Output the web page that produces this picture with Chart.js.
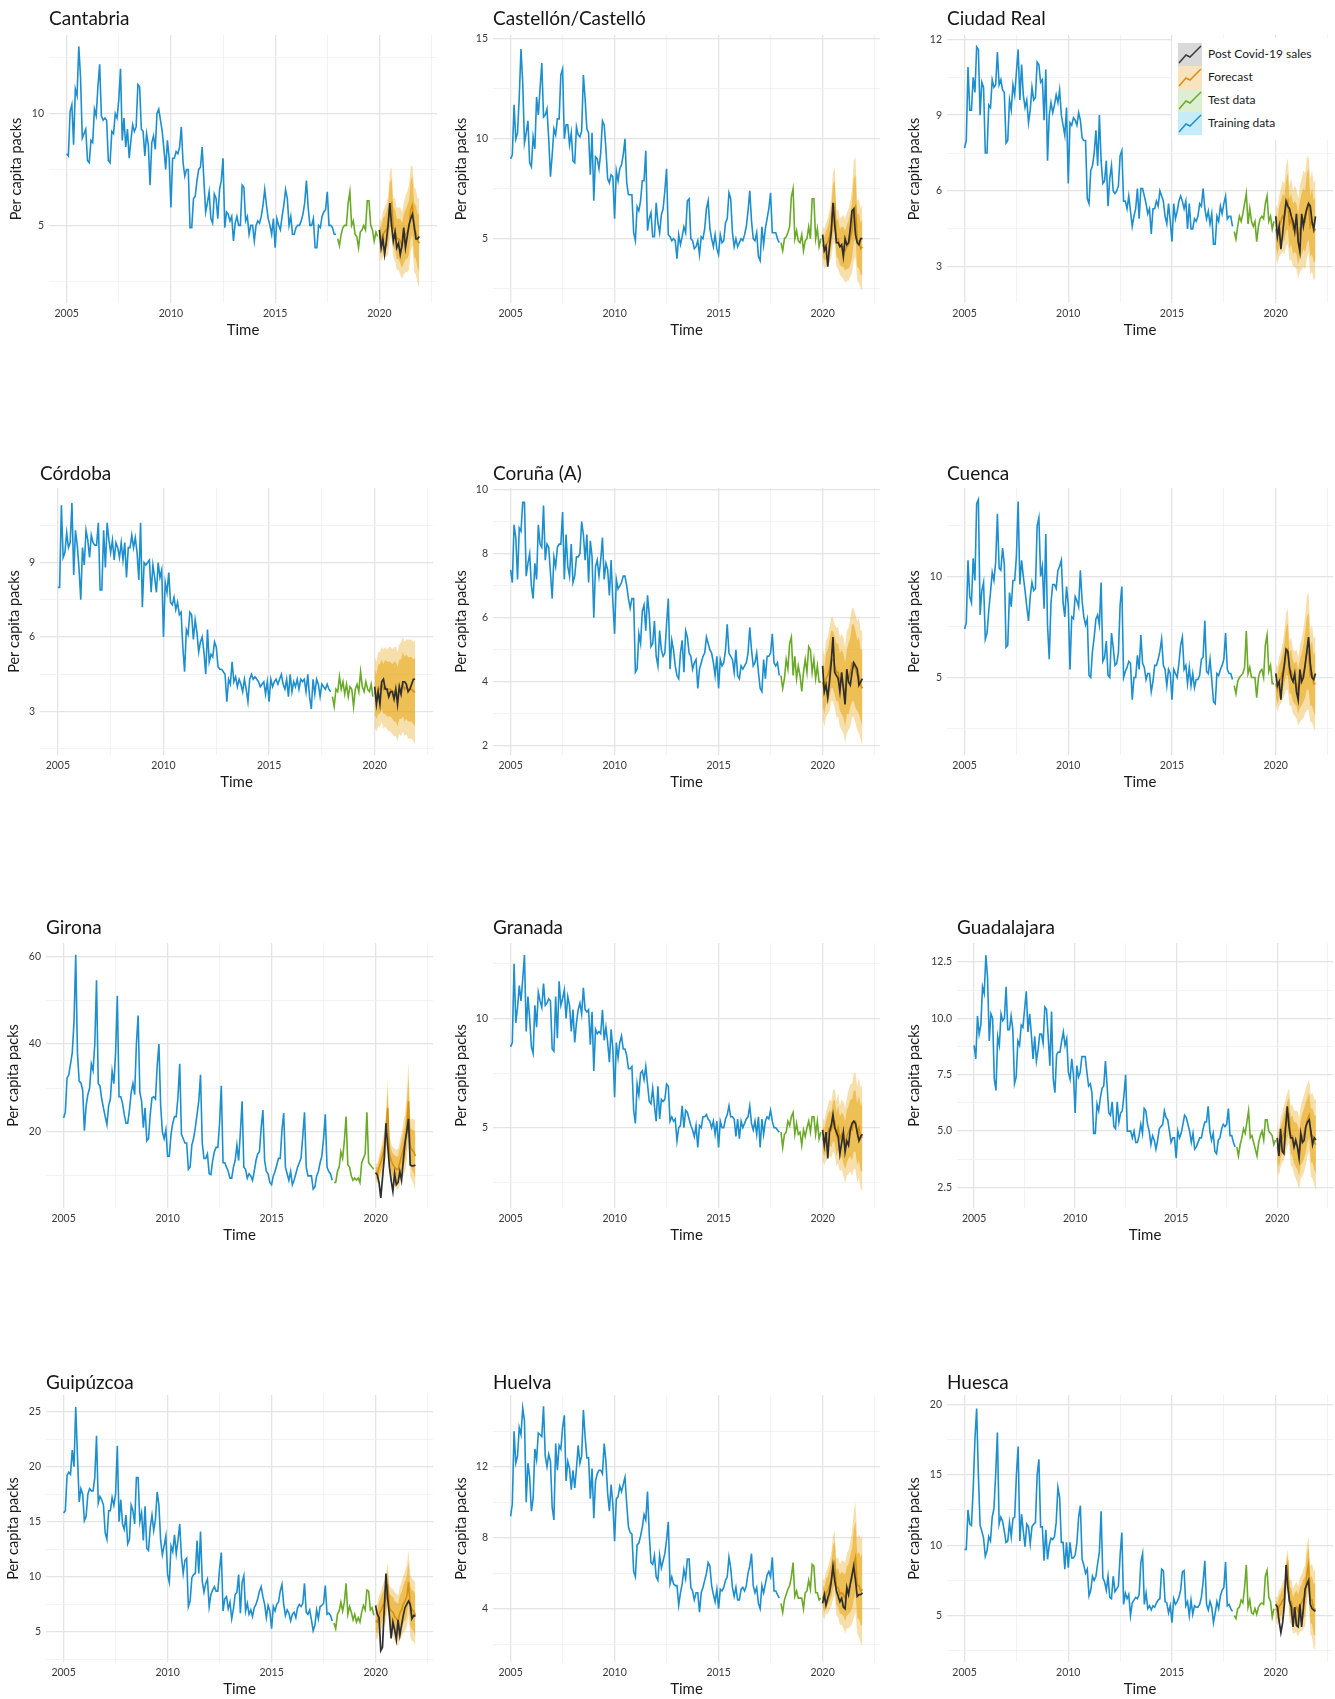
<!DOCTYPE html>
<html><head><meta charset="utf-8">
<script src="https://cdn.jsdelivr.net/npm/chart.js@4.4.1/dist/chart.umd.min.js"></script>
<style>
html,body{margin:0;padding:0;background:#fff;width:1335px;height:1699px;overflow:hidden;font-family:Lato,sans-serif}
.panel{position:absolute}
#legend{position:absolute;left:1172px;top:38px;width:163px;height:102px;background:#fff}
.li{position:absolute;left:6px;height:23px;width:155px}
.li svg{position:absolute;left:0;top:0}
.li span{position:absolute;left:30px;top:4px;font-size:12px;line-height:14px;color:#1a1a1a;white-space:nowrap}
</style></head><body>
<div id="legend">
 <div class="li" style="top:5px"><svg width="24" height="23"><rect width="24" height="23" fill="#d9d9d9"/><polyline points="1,20 8,12 12,14 16,10 23,3" fill="none" stroke="#3a3a3a" stroke-width="1.5"/></svg><span>Post Covid-19 sales</span></div>
 <div class="li" style="top:28px"><svg width="24" height="23"><rect width="24" height="23" fill="#f8e3bd"/><polyline points="1,20 8,12 12,14 16,10 23,3" fill="none" stroke="#d4900f" stroke-width="1.5"/></svg><span>Forecast</span></div>
 <div class="li" style="top:51px"><svg width="24" height="23"><rect width="24" height="23" fill="#deeed0"/><polyline points="1,20 8,12 12,14 16,10 23,3" fill="none" stroke="#6aaa28" stroke-width="1.5"/></svg><span>Test data</span></div>
 <div class="li" style="top:74px"><svg width="24" height="23"><rect width="24" height="23" fill="#c6ecf8"/><polyline points="1,20 8,12 12,14 16,10 23,3" fill="none" stroke="#1d8fce" stroke-width="1.5"/></svg><span>Training data</span></div>
</div>
<script>
// ---------- shared axis values ----------
const xMajors = [2005, 2010, 2015, 2020];
const xMinors = [2007.5, 2012.5, 2017.5, 2022.5];
const trainStart = 2005, testStart = 2018, fcStart = 2020;

// ---------- Cantabria ----------
const cantabriaTrain = [
 8.2,8.1,10.1,10.4,8.6,11.1,10.8,13.0,11.6,8.9,9.1,9.3,
 7.9,7.8,8.8,8.7,10.2,9.9,11.2,12.2,9.9,9.7,9.8,9.7,
 7.9,7.8,9.2,9.1,10.0,9.8,10.6,12.0,8.8,9.8,8.5,9.3,
 8.0,8.8,9.5,9.2,9.4,11.3,11.2,9.3,9.2,8.1,9.1,8.6,
 6.8,8.7,9.0,8.4,10.0,10.2,9.7,9.2,8.4,7.5,8.8,8.0,
 5.8,8.0,8.0,8.3,8.2,8.5,9.4,7.8,7.2,7.5,7.5,4.9,
 4.9,6.2,6.3,7.0,7.5,7.6,8.5,7.0,5.6,6.0,6.5,5.3,
 5.1,6.4,6.2,5.3,6.6,7.0,8.0,4.9,5.6,5.5,5.2,5.4,
 4.3,5.1,5.4,5.0,5.0,6.8,6.7,5.2,5.4,4.6,5.0,5.0,
 4.3,5.0,5.2,5.1,5.4,5.9,6.6,5.9,5.3,5.0,4.6,5.3,
 4.0,5.3,5.0,4.8,5.4,5.9,6.6,6.2,5.0,5.4,4.6,4.6,
 4.9,5.0,5.0,5.2,5.5,6.0,7.0,5.8,5.0,5.0,5.3,4.0,
 4.0,5.0,4.9,5.4,5.6,5.7,6.5,5.0,5.0,4.9,4.6,4.6];
const cantabriaTest = [4.4,4.1,4.6,4.9,5.0,5.0,6.0,6.5,5.0,5.2,4.6,4.5, 4.0,4.7,4.8,5.0,4.8,6.1,6.1,5.0,4.8,4.3,4.7,4.5];
const cantabriaFc = [4.5,4.3,4.6,4.7,4.8,5.0,5.9,6.0,4.9,4.8,4.4,4.4, 4.3,4.1,4.4,4.6,4.7,4.9,5.7,5.9,4.8,4.7,4.3,4.2];
const cantabriaW80 = [0.5,0.6,0.7,0.7,0.8,0.9,1.0,1.1,0.9,0.9,0.9,0.9, 1.0,1.0,1.1,1.1,1.2,1.2,1.3,1.3,1.2,1.2,1.2,1.3];
const cantabriaW95 = [0.8,0.9,1.0,1.1,1.2,1.3,1.5,1.6,1.3,1.4,1.4,1.4, 1.5,1.5,1.6,1.7,1.8,1.9,1.9,1.8,1.9,1.9,1.9,2.0];
const cantabriaPost = [4.8,4.0,4.4,3.7,4.3,5.0,6.0,5.0,4.3,4.7,4.0,4.2, 3.7,4.1,4.9,4.0,4.5,5.0,5.3,5.5,5.0,4.4,4.4,4.5];

// ---------- Castellón/Castelló ----------
const castellonTrain = [
 9.0,9.2,11.7,10.0,10.3,12.1,14.5,12.8,9.8,10.3,10.9,8.8,
 8.6,10.1,9.5,12.1,11.2,12.5,13.8,11.1,11.2,11.5,10.0,8.1,
 9.2,10.5,10.2,11.0,11.0,13.2,13.5,10.0,10.7,10.7,9.7,10.3,
 8.9,8.8,10.6,10.2,10.1,10.4,13.2,12.0,10.5,10.3,8.2,10.3,
 6.9,9.1,9.0,8.5,9.3,10.9,10.7,9.5,8.0,7.8,8.2,8.1,
 6.0,8.4,7.9,8.5,8.7,9.2,10.0,7.8,7.2,7.2,7.2,5.3,
 4.9,6.6,6.4,6.9,7.9,7.9,9.4,5.4,6.0,6.3,5.1,5.1,
 6.8,5.8,5.3,6.2,6.5,7.4,8.5,5.2,5.1,4.9,5.0,4.9,
 4.0,5.2,4.7,5.1,5.6,5.3,6.9,7.0,5.0,4.9,4.5,4.6,
 4.9,4.2,5.1,5.0,5.5,6.5,6.9,5.5,5.0,4.6,5.2,4.5,
 4.2,5.2,4.8,4.9,5.8,6.0,7.3,7.0,5.3,4.6,5.0,4.6,
 4.8,5.0,4.9,5.2,5.6,6.4,7.4,5.9,5.0,4.9,5.3,4.1,
 3.9,5.6,4.7,5.5,6.0,6.5,7.3,5.3,5.3,5.3,5.0,4.8];
const castellonTest = [4.8,4.4,5.0,5.1,5.3,5.6,7.1,7.5,5.0,5.4,4.9,4.8, 5.2,4.4,4.9,5.0,5.6,5.0,7.0,7.0,5.0,5.5,4.6,5.0];
const castellonFc = [4.7,4.5,4.7,4.8,5.1,5.5,6.5,6.7,5.0,5.0,4.6,4.6, 4.6,4.4,4.6,4.7,5.0,5.4,6.4,6.6,4.9,4.9,4.5,4.6];
const castellonW80 = [0.6,0.6,0.7,0.8,0.9,1.0,1.2,1.2,0.9,1.0,0.9,1.0, 1.0,1.0,1.1,1.2,1.3,1.4,1.6,1.6,1.3,1.4,1.3,1.4];
const castellonW95 = [0.9,1.0,1.1,1.2,1.3,1.5,1.8,1.9,1.4,1.5,1.4,1.5, 1.6,1.6,1.7,1.8,1.9,2.1,2.5,2.5,2.0,2.1,2.0,2.2];
const castellonPost = [5.2,4.4,4.6,3.6,4.6,5.3,6.8,5.7,4.8,4.8,4.6,4.7, 4.1,5.0,4.7,4.8,5.5,6.4,6.5,5.2,4.8,4.7,5.0,5.0];

// ---------- Ciudad Real ----------
const ciudadRealTrain = [
 7.7,8.0,10.9,9.2,9.2,10.5,9.9,11.7,11.6,9.0,10.3,10.1,
 7.5,7.5,9.4,9.3,10.4,10.1,10.2,11.5,10.2,10.4,10.0,9.9,
 7.9,8.0,9.6,9.2,10.2,9.8,10.7,11.6,9.6,11.0,9.8,9.3,
 9.6,8.7,9.2,10.1,9.6,9.7,11.1,11.0,10.3,10.4,8.8,10.8,
 7.2,9.0,9.5,9.1,9.4,9.8,9.5,10.0,9.0,8.6,8.2,9.3,
 6.3,8.7,8.6,8.9,8.8,8.6,9.1,8.8,8.1,8.0,8.0,5.7,
 5.5,6.8,7.0,7.5,8.4,7.0,9.0,7.2,6.3,6.4,7.2,5.4,
 6.5,7.0,6.0,5.9,6.0,6.2,7.4,7.6,5.6,5.6,5.3,5.8,
 5.2,4.6,5.0,5.3,6.1,4.9,6.1,6.1,5.8,5.5,5.1,5.3,
 4.3,5.3,5.3,5.6,5.4,6.0,5.8,5.6,5.0,4.7,5.5,4.8,
 4.0,5.5,4.9,5.2,5.6,5.8,5.6,5.3,5.6,4.5,5.5,4.5,
 4.5,4.9,4.8,5.0,5.5,5.4,6.1,5.3,4.9,5.2,4.7,5.1,
 3.9,3.9,5.0,4.8,5.4,5.1,5.5,5.8,4.9,5.0,5.0,4.6];
const ciudadRealTest = [4.4,4.1,4.6,5.0,4.8,5.1,5.5,5.9,4.7,5.3,4.8,4.6, 4.8,4.0,4.6,4.9,5.0,4.9,5.5,5.8,4.8,5.0,4.5,4.8];
const ciudadRealFc = [4.5,4.2,4.6,4.8,5.0,4.9,5.4,5.6,4.7,4.9,4.5,4.6, 4.5,4.1,4.5,4.7,4.9,4.8,5.3,5.5,4.6,4.8,4.4,4.5];
const ciudadRealW80 = [0.7,0.7,0.8,0.8,0.9,0.9,1.0,1.1,1.0,1.0,1.0,1.0, 1.0,1.0,1.1,1.2,1.2,1.2,1.4,1.4,1.2,1.3,1.2,1.3];
const ciudadRealW95 = [1.0,1.1,1.2,1.3,1.4,1.4,1.6,1.7,1.5,1.6,1.5,1.6, 1.6,1.6,1.7,1.8,1.9,1.9,2.0,1.9,1.9,2.0,1.9,2.0];
const ciudadRealPost = [5.0,4.2,4.6,3.7,4.3,5.0,5.6,5.4,5.3,5.0,4.8,4.4, 5.1,4.0,3.6,5.1,4.6,5.0,5.3,5.5,5.4,4.8,4.5,5.0];

// ---------- Córdoba ----------
const cordobaTrain = [
 8.0,8.0,11.3,9.2,9.4,10.2,9.6,9.8,11.4,8.5,10.3,9.7,
 8.8,7.5,9.6,8.9,10.3,9.9,9.2,10.1,9.8,9.7,9.7,10.6,
 7.9,7.9,10.3,8.8,10.6,9.9,9.4,9.9,9.1,9.8,9.6,9.2,
 9.8,9.1,9.8,8.4,9.6,9.6,10.1,9.6,10.0,9.4,8.3,10.6,
 7.2,9.0,8.9,9.0,9.1,7.8,8.9,8.4,7.8,9.0,8.4,8.7,
 6.0,8.2,7.8,8.6,7.4,7.3,7.6,7.1,7.4,6.9,7.0,5.6,
 4.6,6.3,6.1,7.0,6.9,5.9,6.7,6.2,5.4,5.8,6.0,5.4,
 4.5,6.3,5.0,5.3,5.2,5.8,5.6,4.8,4.7,4.7,4.6,4.5,
 3.4,4.3,4.1,5.0,4.2,4.4,4.0,4.3,4.1,3.8,4.3,3.9,
 3.4,4.3,4.5,4.3,4.4,4.3,4.2,4.0,4.1,4.2,3.7,4.2,
 3.4,4.3,4.0,4.2,4.3,4.1,4.3,4.5,4.1,3.9,4.3,3.6,
 4.5,3.8,4.2,4.0,4.3,3.9,4.3,4.2,4.3,3.8,4.5,3.6,
 3.1,4.3,3.7,4.3,4.1,3.6,4.1,4.0,3.9,4.1,3.9,3.8];
const cordobaTest = [3.6,3.2,3.9,3.8,4.4,3.9,4.2,3.7,4.1,3.6,4.0,3.9, 3.2,3.9,4.1,3.8,4.6,4.0,3.8,4.2,3.9,3.8,4.1,3.6];
const cordobaFc = [3.8,3.6,3.9,3.9,4.1,3.9,4.0,3.9,3.9,3.9,3.8,3.8, 3.8,3.6,3.9,3.9,4.1,3.9,4.0,3.9,3.9,3.9,3.8,3.8];
const cordobaW80 = [0.9,0.9,1.0,1.0,1.0,1.0,1.1,1.1,1.1,1.1,1.1,1.2, 1.2,1.2,1.2,1.2,1.3,1.3,1.3,1.3,1.3,1.3,1.3,1.4];
const cordobaW95 = [1.4,1.4,1.5,1.5,1.5,1.6,1.6,1.6,1.7,1.7,1.7,1.8, 1.8,1.8,1.8,1.9,1.9,1.9,1.9,2.0,2.0,2.0,2.0,2.1];
const cordobaPost = [4.0,3.3,3.8,3.3,4.2,4.3,3.9,3.9,3.6,3.8,3.8,3.5, 3.9,3.3,4.0,3.7,4.2,4.2,4.1,3.8,3.9,4.1,4.3,4.3];

// ---------- Coruña (A) ----------
const corunaTrain = [
 7.5,7.1,8.9,8.5,7.2,8.8,8.7,9.6,9.6,7.3,7.7,8.0,
 7.0,6.6,7.7,7.2,8.9,8.3,8.2,9.5,7.8,8.3,8.2,7.4,
 6.6,7.9,7.6,8.2,8.3,8.3,9.3,7.2,8.6,7.6,7.3,8.3,
 7.1,7.3,7.9,7.9,8.0,9.0,8.6,7.8,8.6,7.1,8.4,7.9,
 6.0,7.6,7.8,7.3,7.8,8.5,7.2,7.7,7.5,6.7,7.8,6.5,
 5.5,7.2,6.9,7.0,7.1,7.3,7.3,7.0,6.6,6.3,6.6,6.6,
 4.3,4.4,5.5,5.2,6.2,6.4,5.6,6.7,6.1,5.1,5.2,5.9,
 4.8,4.5,5.6,5.0,4.8,4.9,5.8,6.6,4.4,5.3,5.0,4.5,
 4.2,4.1,4.9,5.3,4.3,5.6,5.4,4.9,4.8,4.4,4.6,4.7,
 3.8,4.4,4.6,4.8,4.9,5.4,5.2,5.0,4.9,4.6,4.2,4.8,
 3.8,4.7,4.5,4.6,5.0,5.8,4.9,4.8,4.7,4.3,5.0,4.2,
 4.1,4.5,4.4,4.5,4.6,4.9,5.7,5.0,4.5,4.6,4.9,4.3,
 3.8,3.7,4.7,4.1,4.8,4.8,4.9,5.5,4.6,4.5,4.6,4.2];
const corunaTest = [4.2,3.8,4.1,4.7,4.4,5.2,5.4,4.2,4.8,4.1,4.5,4.2, 3.7,4.3,4.7,4.3,5.1,5.0,4.3,4.7,4.1,4.5,4.0,4.0];
const corunaFc = [4.0,3.7,4.1,4.2,4.4,4.7,4.7,4.5,4.3,4.3,4.0,4.0, 3.9,3.6,4.0,4.1,4.3,4.6,4.6,4.4,4.2,4.2,3.9,3.8];
const corunaW80 = [0.7,0.7,0.8,0.8,0.9,0.9,0.9,0.9,0.9,0.9,0.9,1.0, 1.0,1.0,1.0,1.1,1.1,1.2,1.2,1.2,1.1,1.2,1.1,1.2];
const corunaW95 = [1.1,1.1,1.2,1.2,1.3,1.3,1.3,1.3,1.4,1.4,1.4,1.5, 1.5,1.5,1.6,1.6,1.7,1.7,1.7,1.7,1.7,1.8,1.7,1.8];
const corunaPost = [4.5,3.7,3.9,3.5,4.0,4.6,5.4,4.3,4.2,4.1,3.7,4.3, 3.8,3.3,4.4,4.0,3.9,4.3,4.6,4.5,4.4,3.9,4.0,4.1];

// ---------- Cuenca ----------
const cuencaTrain = [
 7.4,7.7,10.8,9.0,8.7,10.9,9.8,13.6,13.8,8.1,9.3,9.7,
 6.9,7.2,8.3,9.2,10.2,9.8,10.7,13.1,10.4,10.3,11.4,10.6,
 6.5,6.6,9.2,8.5,9.8,9.8,11.0,13.7,9.6,10.8,10.0,9.3,
 8.5,7.8,9.0,9.7,9.3,9.4,12.5,12.9,10.0,10.5,8.4,12.1,
 7.6,5.9,8.7,9.6,9.6,9.4,10.3,10.5,10.8,8.7,8.0,9.5,
 8.6,5.4,8.0,7.9,9.0,8.8,8.5,10.3,8.8,8.0,7.6,7.9,
 5.1,5.0,6.3,7.0,7.9,8.1,7.6,9.7,5.8,6.0,6.8,5.1,
 5.0,7.2,6.5,5.6,5.7,6.2,8.6,9.5,5.0,5.3,5.5,5.8,
 5.7,3.9,5.0,5.0,6.1,5.4,7.1,5.7,5.5,4.9,5.2,5.2,
 4.3,4.8,5.6,5.6,5.9,6.3,6.9,5.6,5.4,4.6,5.4,5.2,
 3.9,5.4,5.2,5.0,5.7,6.6,7.0,5.4,5.6,4.7,5.5,4.6,
 5.2,4.5,4.9,4.9,5.1,5.9,6.0,7.8,5.3,5.2,5.9,4.9,
 3.8,3.7,5.2,5.1,5.4,5.6,5.9,7.2,5.4,5.2,5.2,4.9];
const cuencaTest = [4.6,4.2,4.8,5.0,5.1,5.2,5.5,7.3,5.2,5.5,5.0,5.0, 5.0,4.0,5.0,5.3,5.4,5.0,6.6,7.1,5.3,5.6,4.7,4.7];
const cuencaFc = [4.7,4.4,4.8,5.0,5.3,5.7,6.3,6.4,5.2,5.3,4.8,4.7, 4.7,4.3,4.7,4.9,5.2,5.6,6.2,6.3,5.1,5.2,4.7,4.7];
const cuencaW80 = [0.6,0.7,0.8,0.8,0.9,1.0,1.2,1.3,1.0,1.1,1.0,1.0, 1.1,1.1,1.2,1.3,1.4,1.6,1.8,1.9,1.5,1.6,1.4,1.6];
const cuencaW95 = [1.0,1.1,1.2,1.3,1.4,1.6,1.9,2.0,1.6,1.7,1.6,1.6, 1.7,1.7,1.9,2.0,2.2,2.4,2.8,2.9,2.3,2.4,2.2,2.4];
const cuencaPost = [5.2,4.6,4.8,3.9,5.0,5.6,6.4,6.3,5.5,5.0,4.8,5.2, 4.3,3.9,5.4,4.8,5.0,5.6,6.3,7.0,5.7,5.0,4.9,5.2];

// ---------- Girona ----------
const gironaTrain = [
 23.2,24.5,32.3,33.0,35.5,38.0,45.0,60.3,38.0,31.5,31.2,29.5,
 20.3,26.0,28.5,30.0,35.5,34.0,40.0,54.5,31.0,30.5,27.5,25.5,
 23.5,21.7,26.0,27.5,33.8,31.0,38.0,51.0,28.0,28.0,26.5,24.0,
 22.0,22.0,25.0,29.0,31.0,28.5,40.0,46.5,29.0,27.0,21.0,25.5,
 18.0,18.5,24.0,27.8,28.0,27.5,35.0,40.0,26.0,20.0,18.5,20.5,
 14.5,14.5,19.5,22.0,23.5,23.5,28.0,35.5,19.5,18.5,17.5,17.5,
 11.5,12.0,17.0,18.5,21.0,24.0,27.0,33.0,17.5,14.0,14.0,15.0,
 10.5,10.3,13.5,15.5,16.5,16.5,22.0,30.5,13.0,13.0,12.0,11.0,
 9.5,9.5,12.0,13.5,17.0,13.5,20.0,27.0,12.0,11.5,9.5,10.5,
 10.0,9.0,11.0,13.5,15.0,15.5,21.0,25.0,13.5,11.0,10.5,8.5,
 8.0,10.0,11.0,12.5,14.0,14.0,20.5,24.3,12.0,10.5,9.0,11.0,
 8.0,9.0,10.5,12.0,13.0,14.0,19.0,24.5,12.0,10.0,10.0,10.0,
 7.0,7.5,10.0,11.0,13.0,14.5,18.5,24.0,12.0,11.0,10.5,9.0];
const gironaTest = [8.5,8.5,11.0,12.0,15.5,14.0,18.0,23.5,12.5,12.0,10.0,9.0, 9.5,9.0,9.5,8.5,13.0,14.0,15.0,24.5,13.0,12.5,12.0,11.5];
const gironaFc = [10.8,10.5,12.0,13.0,14.5,16.0,19.5,25.5,15.0,13.5,12.5,12.0, 11.5,11.5,13.0,14.5,16.0,17.5,21.0,27.0,16.5,16.0,15.5,14.5];
const gironaW80 = [1.3,1.4,1.8,2.1,2.3,2.6,3.3,4.2,2.6,2.6,2.6,2.7, 2.9,3.0,3.3,3.5,3.9,4.2,4.9,5.8,4.2,4.6,4.9,5.2];
const gironaW95 = [2.0,2.2,2.8,3.2,3.6,4.0,5.0,6.5,4.0,4.0,4.0,4.2, 4.5,4.6,5.0,5.4,6.0,6.5,7.5,9.0,6.5,7.0,7.5,8.0];
const gironaPost = [10.7,10.3,8.5,5.0,9.5,14.0,22.0,17.0,12.0,9.0,6.5,10.5, 8.0,8.5,11.0,9.0,13.5,17.5,20.0,23.0,12.5,12.3,12.3,12.5];

// ---------- Granada ----------
const granadaTrain = [
 8.7,8.9,12.5,9.8,10.5,11.5,10.8,11.8,12.9,9.4,11.0,10.0,
 8.7,8.4,10.6,9.6,11.2,10.8,10.5,11.6,10.6,10.7,10.9,10.8,
 8.6,8.5,11.0,9.1,11.7,10.6,10.9,11.3,10.0,11.0,10.6,9.4,
 10.4,8.9,9.8,10.4,10.7,10.2,11.4,10.4,10.3,10.4,8.8,10.3,
 7.6,9.5,9.3,9.4,9.3,10.4,9.0,9.6,8.9,8.0,9.5,8.6,
 6.4,8.9,8.2,8.9,9.2,8.6,8.6,8.3,7.7,7.7,7.8,5.8,
 5.2,7.0,6.5,7.5,7.6,7.2,7.8,7.0,6.2,6.1,6.8,6.0,
 5.3,6.9,5.4,6.3,6.2,6.3,7.0,6.9,5.3,5.5,5.3,5.4,
 4.4,5.0,5.1,6.0,5.0,5.8,5.7,5.4,5.1,4.9,4.6,5.1,
 4.1,5.1,5.0,5.5,5.5,5.6,5.4,5.3,5.0,5.3,4.7,5.3,
 4.1,5.3,5.0,5.0,5.4,5.6,6.0,5.5,5.5,5.4,4.6,5.4,
 4.5,5.3,5.0,5.2,5.4,5.5,6.0,5.2,4.9,5.3,4.7,5.5,
 4.1,5.4,4.7,5.3,5.5,5.4,5.8,5.3,5.0,5.0,4.9,4.8];
const granadaTest = [4.8,4.1,4.7,4.8,5.3,5.1,5.5,5.7,4.7,5.2,4.7,4.8, 4.2,4.9,4.6,5.0,5.3,4.8,5.5,5.5,4.7,5.3,4.5,4.8];
const granadaFc = [4.5,4.3,4.6,4.8,5.0,4.9,5.3,5.3,4.7,5.0,4.5,4.7, 4.5,4.2,4.6,4.8,5.0,4.9,5.3,5.3,4.7,5.0,4.5,4.6];
const granadaW80 = [0.6,0.6,0.7,0.8,0.8,0.8,0.9,1.0,1.0,1.0,1.0,1.0, 1.1,1.1,1.2,1.2,1.3,1.4,1.4,1.4,1.4,1.5,1.5,1.6];
const granadaW95 = [1.0,1.0,1.1,1.2,1.3,1.3,1.4,1.5,1.5,1.6,1.5,1.6, 1.7,1.7,1.8,1.9,2.0,2.1,2.2,2.2,2.2,2.3,2.3,2.5];
const granadaPost = [4.9,4.2,4.8,3.6,4.8,5.1,5.6,5.0,4.8,4.6,3.8,4.3, 4.8,3.9,4.4,4.2,4.9,5.2,5.3,5.2,4.8,4.4,4.6,4.7];

// ---------- Guadalajara ----------
const guadalajaraTrain = [
 8.8,8.2,10.1,9.3,9.7,11.4,11.1,12.8,11.8,9.0,10.2,10.0,
 7.3,6.8,9.2,8.8,10.2,9.9,10.0,11.4,9.5,9.5,10.1,9.5,
 7.1,7.4,9.0,8.8,9.7,9.6,10.4,11.2,9.4,10.2,9.3,8.2,
 9.2,8.1,8.6,9.3,9.3,8.9,10.5,10.4,9.2,7.9,10.3,7.3,
 6.7,8.4,8.5,8.5,9.0,9.4,8.8,9.1,7.6,7.3,8.2,7.5,
 5.8,7.9,7.4,7.6,8.3,8.3,8.3,7.6,7.0,7.1,6.7,4.9,
 4.9,6.2,5.9,6.5,6.9,7.0,8.1,7.0,5.8,5.7,6.3,5.2,
 5.1,6.3,5.4,5.8,5.9,6.6,7.5,5.0,5.0,5.0,4.7,5.0,
 4.5,4.5,4.8,5.3,4.9,6.0,5.9,5.3,5.0,4.4,4.8,4.6,
 4.2,4.6,5.1,5.2,5.3,5.9,5.6,5.5,5.0,4.5,4.7,4.7,
 3.8,5.0,4.7,4.9,5.3,5.7,5.6,5.3,5.0,4.5,4.9,4.2,
 4.3,4.5,4.7,4.7,5.1,5.4,5.4,6.1,5.0,4.6,4.9,4.1,
 4.0,4.6,4.7,5.1,5.3,5.2,5.3,6.0,4.8,4.8,4.5,4.3];
const guadalajaraTest = [4.3,3.9,4.4,4.7,5.1,4.9,5.4,5.9,4.7,4.8,4.5,4.2, 3.9,4.5,4.8,5.0,4.6,5.5,5.5,5.0,4.9,4.8,4.4,4.6];
const guadalajaraFc = [4.3,4.0,4.5,4.7,4.9,5.2,5.5,5.7,4.8,4.8,4.5,4.4, 4.3,4.0,4.5,4.7,4.9,5.2,5.5,5.7,4.8,4.8,4.5,4.4];
const guadalajaraW80 = [0.6,0.6,0.7,0.7,0.8,0.8,0.8,0.8,0.8,0.9,0.9,1.0, 1.0,1.0,1.0,1.1,1.1,1.1,1.0,1.0,1.2,1.2,1.2,1.3];
const guadalajaraW95 = [1.0,1.0,1.1,1.1,1.2,1.2,1.2,1.2,1.3,1.4,1.4,1.5, 1.6,1.6,1.6,1.7,1.7,1.7,1.6,1.6,1.8,1.9,1.9,2.0];
const guadalajaraPost = [4.7,3.9,5.1,4.1,4.0,5.2,6.1,5.2,4.7,4.7,4.3,4.6, 4.3,3.8,4.9,4.5,4.6,5.2,5.4,5.5,5.0,4.4,4.7,4.6];

// ---------- Guipúzcoa ----------
const guipuzcoaTrain = [
 15.8,16.0,19.2,19.5,19.3,21.5,20.0,25.4,21.0,16.8,18.0,17.5,
 15.1,15.5,17.5,18.0,17.8,17.8,19.0,22.8,16.7,17.3,17.0,16.5,
 14.0,13.4,16.0,16.0,17.2,16.5,17.5,21.9,15.0,17.0,14.8,14.3,
 15.6,13.0,13.4,16.5,16.0,14.8,19.0,19.0,15.0,15.8,13.3,16.4,
 12.6,12.4,14.5,15.6,14.2,15.2,17.7,16.5,13.3,12.0,12.8,13.7,
 10.2,9.5,12.8,12.3,13.8,12.1,13.3,14.8,11.8,10.3,11.5,11.7,
 7.3,7.8,9.9,10.2,10.3,13.3,10.3,14.1,9.6,8.6,9.4,9.8,
 7.3,8.4,8.8,9.1,8.7,8.7,10.7,12.2,6.9,8.0,8.2,7.1,
 7.7,6.2,7.1,8.4,8.6,10.2,6.7,9.5,10.1,6.9,7.6,6.6,
 7.0,6.4,7.2,7.5,8.0,8.7,9.1,8.2,7.5,6.3,7.4,6.9,
 5.3,7.3,6.9,7.5,7.7,8.7,9.3,7.5,6.5,7.0,6.7,6.0,
 6.6,6.8,6.3,7.2,7.5,7.3,7.6,9.4,6.8,6.6,7.0,6.1,
 5.1,5.6,7.0,6.2,7.3,7.4,7.6,9.2,6.6,6.7,6.5,6.0];
const guipuzcoaTest = [5.8,5.3,6.6,6.9,7.7,6.9,7.7,9.4,6.6,7.3,6.8,6.1, 6.6,5.9,6.3,5.9,6.8,7.4,7.0,8.8,8.7,7.0,7.2,6.5];
const guipuzcoaFc = [6.0,5.9,6.6,6.9,7.3,7.6,8.0,9.3,7.2,6.9,6.8,6.4, 6.2,6.0,6.7,7.0,7.5,7.8,8.2,9.5,7.4,7.0,6.9,6.5];
const guipuzcoaW80 = [1.0,1.0,1.1,1.2,1.2,1.3,1.4,1.3,1.3,1.4,1.4,1.4, 1.5,1.5,1.6,1.6,1.7,1.8,1.8,1.9,1.8,1.8,1.8,1.9];
const guipuzcoaW95 = [1.5,1.6,1.7,1.8,1.9,2.0,2.1,2.0,2.0,2.1,2.1,2.2, 2.3,2.3,2.4,2.5,2.6,2.7,2.8,2.9,2.8,2.8,2.8,2.9];
const guipuzcoaPost = [7.4,6.6,6.3,3.3,3.6,7.0,10.3,8.0,6.5,4.4,5.9,5.2, 4.3,6.1,4.7,5.6,6.5,7.2,7.5,7.8,7.5,6.2,6.5,6.4];

// ---------- Huelva ----------
const huelvaTrain = [
 9.2,9.9,14.0,12.2,12.6,14.2,13.8,15.3,14.6,10.0,12.2,11.4,
 9.5,10.2,13.0,12.4,13.9,13.8,13.7,15.4,12.6,12.0,12.7,12.3,
 9.7,9.0,13.3,11.8,13.2,13.0,14.2,14.9,11.2,12.3,11.9,10.7,
 11.8,10.8,11.9,13.2,12.2,12.6,15.2,13.7,12.5,12.5,10.2,11.9,
 9.1,11.2,11.6,11.8,11.8,11.6,13.3,12.3,10.5,9.5,11.0,9.9,
 7.8,10.2,10.3,10.9,10.6,11.0,11.4,9.9,8.6,8.3,8.2,6.1,
 5.8,7.6,7.7,8.1,8.6,9.3,9.0,10.6,8.2,6.6,6.5,7.0,
 5.8,5.6,7.0,6.3,6.7,7.1,7.9,8.9,5.4,5.8,5.4,5.3,
 5.3,4.2,4.9,5.4,6.2,5.7,6.8,6.8,5.2,5.0,4.5,4.9,
 4.9,3.8,4.9,5.2,5.6,6.0,6.6,6.4,5.3,4.8,4.4,5.1,
 4.0,5.1,5.0,5.2,5.6,5.8,6.9,6.3,5.2,4.7,5.2,4.5,
 4.5,5.1,5.2,5.0,5.3,6.0,6.4,7.1,5.3,4.9,5.2,4.3,
 4.0,5.3,4.9,5.4,5.9,6.1,5.8,6.9,5.0,5.0,4.8,4.6];
const huelvaTest = [4.3,3.8,4.5,4.8,5.1,5.3,5.8,6.6,4.7,5.0,4.6,4.6, 4.6,4.0,4.9,5.0,5.6,5.1,6.5,6.4,4.9,4.9,4.5,4.6];
const huelvaFc = [4.7,4.5,4.9,5.0,5.3,5.6,6.3,6.6,5.2,5.2,4.8,4.9, 4.8,4.6,5.0,5.1,5.4,5.7,6.5,6.9,5.3,5.3,5.0,5.1];
const huelvaW80 = [0.6,0.7,0.8,0.8,0.9,1.0,1.2,1.2,1.0,1.1,1.1,1.2, 1.2,1.3,1.4,1.4,1.6,1.7,2.0,2.0,1.8,1.9,1.9,2.1];
const huelvaW95 = [1.0,1.1,1.2,1.3,1.4,1.5,1.8,1.8,1.6,1.7,1.7,1.8, 1.9,2.0,2.1,2.2,2.4,2.6,3.0,3.1,2.7,2.9,2.9,3.2];
const huelvaPost = [4.3,4.8,4.2,4.6,4.9,5.5,6.4,5.6,5.0,4.7,4.4,4.6, 4.1,4.0,5.2,4.8,5.4,5.9,6.4,5.6,4.7,4.8,4.8,4.9];

// ---------- Huesca ----------
const huescaTrain = [
 9.7,9.7,12.5,11.5,11.4,14.0,17.5,19.7,15.0,11.4,11.0,10.5,
 9.2,9.6,10.6,10.3,12.0,12.6,15.0,18.0,11.5,12.0,11.7,11.0,
 10.2,10.3,11.6,10.6,11.9,12.0,15.0,17.0,10.3,12.2,11.0,9.9,
 11.5,11.3,10.1,11.3,11.5,11.6,15.0,16.1,11.3,11.3,8.9,11.1,
 9.0,10.0,10.5,10.4,10.6,11.6,14.1,13.4,10.2,10.2,8.3,10.2,
 8.4,10.2,9.1,9.1,9.3,10.2,12.0,12.8,9.0,8.6,8.0,8.3,
 6.4,6.8,7.8,7.5,7.8,8.7,9.5,12.4,7.7,7.4,6.8,7.8,
 6.3,6.2,7.8,6.7,6.9,7.1,9.3,10.9,5.8,6.6,6.2,6.5,
 5.0,5.9,6.1,6.3,6.2,6.5,8.8,9.4,5.8,6.6,5.5,5.7,
 5.4,5.7,5.6,5.9,6.1,6.2,8.3,8.2,6.0,5.9,5.2,5.7,
 4.5,6.2,5.8,6.0,6.3,6.8,8.1,8.2,5.7,6.0,5.0,6.1,
 5.1,5.7,5.6,5.6,5.8,6.3,7.4,8.9,5.8,5.4,6.0,5.6,
 4.5,5.2,6.0,5.5,6.4,6.8,7.0,8.8,5.7,5.8,5.5,5.3];
const huescaTest = [5.0,4.8,5.5,5.6,6.1,5.9,7.0,8.6,5.6,6.1,5.2,5.1, 5.5,5.1,5.6,5.8,5.9,5.8,7.8,8.2,6.3,6.0,4.9,5.5];
const huescaFc = [5.5,5.3,5.7,5.8,6.1,6.2,7.8,8.5,6.0,6.0,5.3,5.5, 5.6,5.3,5.8,5.9,6.2,6.4,7.9,8.6,6.1,6.1,5.4,5.5];
const huescaW80 = [0.6,0.6,0.7,0.8,0.8,0.9,0.8,0.8,1.0,1.0,1.0,1.1, 1.2,1.2,1.2,1.3,1.4,1.4,1.4,1.3,1.6,1.7,1.8,1.9];
const huescaW95 = [0.9,1.0,1.1,1.2,1.3,1.4,1.3,1.2,1.5,1.6,1.6,1.7, 1.8,1.8,1.9,2.0,2.1,2.2,2.1,2.0,2.4,2.6,2.7,2.9];
const huescaPost = [5.8,5.6,4.6,3.8,4.5,5.8,8.6,7.0,6.0,5.6,4.2,5.6, 4.3,4.2,5.8,4.2,5.5,6.9,7.2,7.5,5.8,5.5,5.4,5.3];

// ---------- panel names and y tick values ----------
const panelNames = ['Cantabria','Castellón/Castelló','Ciudad Real','Córdoba','Coruña (A)','Cuenca','Girona','Granada','Guadalajara','Guipúzcoa','Huelva','Huesca'];
const yMajorTicks = [[5,10],[5,10,15],[3,6,9,12],[3,6,9],[2,4,6,8,10],[5,10],[20,40,60],[5,10],[2.5,5,7.5,10,12.5],[5,10,15,20,25],[4,8,12],[5,10,15,20]];
const yMinorTicks = [[2.5,7.5,12.5],[2.5,7.5,12.5],[4.5,7.5,10.5],[1.5,4.5,7.5,10.5],[3,5,7,9],[2.5,7.5,12.5],[10,30,50],[2.5,7.5,12.5],[3.75,6.25,8.75,11.25],[2.5,7.5,12.5,17.5,22.5],[2,6,10,14],[2.5,7.5,12.5,17.5]];
const yDecimals = [0,0,0,0,0,0,0,0,1,0,0,0];
const yLimits = [[1.53,13.51],[1.78,15.2],[1.57,12.17],[1.25,12.0],[1.72,10.05],[1.17,14.37],[2.7,63.0],[1.33,13.45],[1.59,13.34],[2.27,26.5],[1.0,16.04],[1.71,20.66]];

const seriesSets = [
 [cantabriaTrain,cantabriaTest,cantabriaFc,cantabriaW80,cantabriaW95,cantabriaPost],
 [castellonTrain,castellonTest,castellonFc,castellonW80,castellonW95,castellonPost],
 [ciudadRealTrain,ciudadRealTest,ciudadRealFc,ciudadRealW80,ciudadRealW95,ciudadRealPost],
 [cordobaTrain,cordobaTest,cordobaFc,cordobaW80,cordobaW95,cordobaPost],
 [corunaTrain,corunaTest,corunaFc,corunaW80,corunaW95,corunaPost],
 [cuencaTrain,cuencaTest,cuencaFc,cuencaW80,cuencaW95,cuencaPost],
 [gironaTrain,gironaTest,gironaFc,gironaW80,gironaW95,gironaPost],
 [granadaTrain,granadaTest,granadaFc,granadaW80,granadaW95,granadaPost],
 [guadalajaraTrain,guadalajaraTest,guadalajaraFc,guadalajaraW80,guadalajaraW95,guadalajaraPost],
 [guipuzcoaTrain,guipuzcoaTest,guipuzcoaFc,guipuzcoaW80,guipuzcoaW95,guipuzcoaPost],
 [huelvaTrain,huelvaTest,huelvaFc,huelvaW80,huelvaW95,huelvaPost],
 [huescaTrain,huescaTest,huescaFc,huescaW80,huescaW95,huescaPost]
];

// ---------- layout (plot-area rectangles in page pixels) ----------
const layoutRows = [{top:35,bottom:303,tOff:17},{top:488,bottom:755,tOff:15},{top:943,bottom:1208,tOff:16.5},{top:1395,bottom:1662,tOff:13.5}];
const layoutCols = [
 [{l:49,r:437,yW:41},{l:493,r:880,yW:40},{l:947,r:1333,yW:41}],
 [{l:40,r:433,yW:34},{l:493,r:880,yW:40},{l:947,r:1333,yW:41}],
 [{l:46,r:433,yW:41},{l:493,r:880,yW:40},{l:957,r:1333,yW:51}],
 [{l:46,r:433,yW:41},{l:493,r:880,yW:40},{l:947,r:1333,yW:41}]
];

const C_TRAIN = '#1d8fce', C_TEST = '#6aaa28', C_FC = '#d4900f', C_POST = '#2e2e2e';
const GRID_MAJOR = '#e4e4e4', GRID_MINOR = '#f0f0f0';
const FONT = 'Lato';

function pts(arr, start) { return arr.map((v, i) => ({x: start + i / 12, y: v})); }
function band(fc, w, sign) { return fc.map((v, i) => ({x: fcStart + i / 12, y: v + sign * w[i]})); }

function makePanel(k) {
  const row = Math.floor(k / 3), col = k % 3;
  const R = layoutRows[row], Cc = layoutCols[row][col];
  const [train, test, fc, w80, w95, post] = seriesSets[k];
  const padTop = 35, xH = 36, padRight = 2;
  const W = Cc.yW + (Cc.r - Cc.l) + padRight;
  const H = padTop + (R.bottom - R.top) + xH;
  const div = document.createElement('div');
  div.className = 'panel';
  div.style.left = (Cc.l - Cc.yW) + 'px';
  div.style.top = (R.top - padTop) + 'px';
  div.style.width = W + 'px'; div.style.height = H + 'px';
  const cv = document.createElement('canvas');
  cv.width = W; cv.height = H; cv.style.width = W + 'px'; cv.style.height = H + 'px';
  div.appendChild(cv);
  document.body.insertBefore(div, document.getElementById('legend'));

  const yMaj = yMajorTicks[k], yMin = yMinorTicks[k];
  const yAll = yMaj.concat(yMin).sort((a, b) => a - b);
  const xAll = xMajors.concat(xMinors).sort((a, b) => a - b);
  const name = panelNames[k];

  const bandStyle = {borderColor: 'rgba(0,0,0,0)', borderWidth: 0, pointRadius: 0};
  const datasets = [
    Object.assign({data: band(fc, w95, 1), fill: '+1', backgroundColor: 'rgba(230,159,0,0.33)', order: 6}, bandStyle),
    Object.assign({data: band(fc, w95, -1), fill: false, order: 6}, bandStyle),
    Object.assign({data: band(fc, w80, 1), fill: '+1', backgroundColor: 'rgba(230,159,0,0.5)', order: 5}, bandStyle),
    Object.assign({data: band(fc, w80, -1), fill: false, order: 5}, bandStyle),
    {data: pts(fc, fcStart), borderColor: C_FC, borderWidth: 1.6, pointRadius: 0, fill: false, order: 4},
    {data: pts(train, trainStart), borderColor: C_TRAIN, borderWidth: 1.6, pointRadius: 0, fill: false, order: 2},
    {data: pts(test, testStart), borderColor: C_TEST, borderWidth: 1.6, pointRadius: 0, fill: false, order: 2},
    {data: pts(post, fcStart), borderColor: C_POST, borderWidth: 1.7, pointRadius: 0, fill: false, order: 1}
  ];

  const titlePlugin = {
    id: 'ptitle',
    afterDraw(chart) {
      const ctx = chart.ctx, a = chart.chartArea;
      ctx.save();
      ctx.font = '19px ' + FONT;
      ctx.fillStyle = '#151515';
      ctx.textAlign = 'left';
      ctx.textBaseline = 'alphabetic';
      ctx.fillText(name, a.left, a.top - R.tOff + 7);
      ctx.restore();
    }
  };

  new Chart(cv, {
    type: 'line',
    data: {datasets},
    options: {
      responsive: false, animation: false, events: [],
      layout: {padding: {top: padTop, right: padRight, left: 0, bottom: 0}, autoPadding: false},
      elements: {line: {tension: 0}, point: {radius: 0}},
      plugins: {legend: {display: false}, tooltip: {enabled: false}, title: {display: false}},
      scales: {
        x: {
          type: 'linear', min: 2004.154, max: 2022.762,
          afterFit: s => { s.height = xH; },
          afterBuildTicks: s => { s.ticks = xAll.map(v => ({value: v})); },
          ticks: {autoSkip: false, maxRotation: 0, minRotation: 0, padding: 4, color: '#3a3a3a',
                  font: {family: FONT, size: 10.5},
                  callback: v => xMajors.includes(v) ? String(v) : ''},
          grid: {drawTicks: false,
                 color: c => (c.tick && xMajors.includes(c.tick.value)) ? GRID_MAJOR : GRID_MINOR,
                 lineWidth: c => (c.tick && xMajors.includes(c.tick.value)) ? 1.3 : 0.8},
          border: {display: false},
          title: {display: true, text: 'Time', color: '#1a1a1a', font: {family: FONT, size: 15}, padding: {top: 0, bottom: 0}}
        },
        y: {
          type: 'linear', min: yLimits[k][0], max: yLimits[k][1],
          afterFit: s => { s.width = Cc.yW; },
          afterBuildTicks: s => { s.ticks = yAll.map(v => ({value: v})); },
          ticks: {autoSkip: false, padding: 5, color: '#3a3a3a', font: {family: FONT, size: 10.5},
                  callback: v => yMaj.includes(v) ? v.toFixed(yDecimals[k]) : ''},
          grid: {drawTicks: false,
                 color: c => (c.tick && yMaj.includes(c.tick.value)) ? GRID_MAJOR : GRID_MINOR,
                 lineWidth: c => (c.tick && yMaj.includes(c.tick.value)) ? 1.3 : 0.8},
          border: {display: false},
          title: {display: true, text: 'Per capita packs', color: '#1a1a1a', font: {family: FONT, size: 14.5}, padding: {top: 0, bottom: 0}}
        }
      }
    },
    plugins: [titlePlugin]
  });
}

for (let k = 0; k < 12; k++) makePanel(k);
</script>
</body></html>
